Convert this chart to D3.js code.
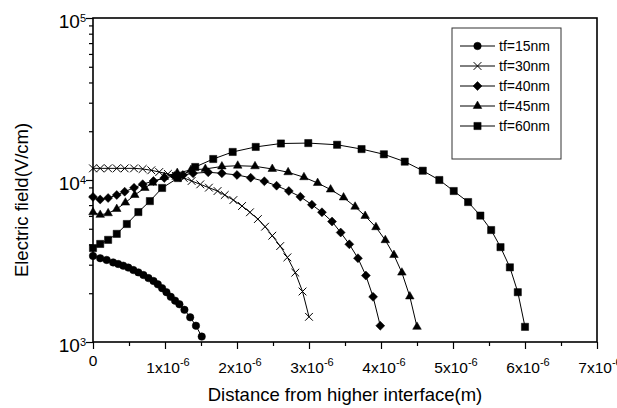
<!DOCTYPE html>
<html>
<head>
<meta charset="utf-8">
<script src="https://cdn.jsdelivr.net/npm/d3@7"></script>
<style>
body { margin: 0; background: #fff; }
svg { display: block; font-family: "Liberation Sans", Arial, sans-serif; }
</style>
</head>
<body>
<svg id="chart" width="617" height="408"></svg>
<script>
// distance in units of 1e-6 m, field in V/cm
const x15 = [0, 0.10, 0.19, 0.28, 0.35, 0.42, 0.49, 0.56, 0.63, 0.70, 0.77, 0.84, 0.90, 0.96, 1.02, 1.08, 1.14, 1.20, 1.27, 1.35, 1.43, 1.51];
const e15 = [3400, 3290, 3210, 3100, 3030, 2960, 2880, 2780, 2690, 2590, 2480, 2380, 2270, 2150, 2030, 1900, 1800, 1710, 1580, 1420, 1260, 1080];

const x30 = [0, 0.10, 0.21, 0.33, 0.44, 0.57, 0.69, 0.81, 0.92, 1.04, 1.15, 1.26, 1.37, 1.49, 1.61, 1.73, 1.83, 1.95, 2.07, 2.18, 2.29, 2.39, 2.49, 2.60, 2.70, 2.81, 2.91, 3.00];
const e30 = [11800, 11800, 11800, 11800, 11800, 11800, 11700, 11480, 11200, 10900, 10600, 10300, 9860, 9400, 8970, 8550, 8080, 7520, 6910, 6320, 5740, 5150, 4530, 3910, 3330, 2680, 2050, 1430];

const x40 = [0, 0.10, 0.21, 0.33, 0.44, 0.57, 0.69, 0.84, 0.99, 1.13, 1.25, 1.39, 1.60, 1.79, 2.00, 2.19, 2.38, 2.55, 2.72, 2.88, 3.04, 3.18, 3.32, 3.44, 3.56, 3.68, 3.79, 3.89, 3.99];
const e40 = [7860, 7580, 7740, 8080, 8470, 8950, 9420, 9860, 10290, 10590, 10740, 11000, 11160, 11000, 10740, 10330, 9820, 9220, 8550, 7880, 7040, 6320, 5540, 4740, 4010, 3290, 2570, 1900, 1260];

const x45 = [0, 0.10, 0.21, 0.33, 0.45, 0.58, 0.72, 0.83, 0.99, 1.17, 1.36, 1.56, 1.79, 2.01, 2.25, 2.49, 2.71, 2.93, 3.12, 3.30, 3.48, 3.64, 3.78, 3.93, 4.06, 4.18, 4.29, 4.40, 4.50];
const e45 = [6320, 6090, 6230, 6620, 7250, 8080, 8930, 9620, 10440, 11050, 11530, 11700, 12120, 12250, 12150, 11700, 11160, 10400, 9580, 8730, 7800, 6840, 6000, 5110, 4250, 3440, 2680, 1910, 1240];

const x60 = [0, 0.10, 0.21, 0.33, 0.47, 0.63, 0.79, 0.96, 1.18, 1.42, 1.67, 1.94, 2.26, 2.61, 2.99, 3.39, 3.73, 4.04, 4.33, 4.58, 4.81, 5.01, 5.21, 5.38, 5.53, 5.66, 5.79, 5.90, 6.00];
const e60 = [3800, 4030, 4270, 4650, 5350, 6340, 7410, 8930, 10280, 12030, 13480, 14900, 16000, 16800, 16900, 16500, 15520, 14410, 12980, 11410, 10000, 8550, 7310, 6030, 4910, 3850, 2890, 2030, 1240];

const labels = ["tf=15nm", "tf=30nm", "tf=40nm", "tf=45nm", "tf=60nm"];
const xTicks = [0, 1, 2, 3, 4, 5, 6, 7];
const xMinor = [0.5, 1.5, 2.5, 3.5, 4.5, 5.5, 6.5];
const yTicks = [1e3, 1e4, 1e5];
const yMinor = [2e3, 3e3, 4e3, 5e3, 6e3, 7e3, 8e3, 9e3, 2e4, 3e4, 4e4, 5e4, 6e4, 7e4, 8e4, 9e4];

const width = 617, height = 408;
const margin = {top: 18, right: 20, bottom: 66, left: 93};

const svg = d3.select("#chart");
svg.append("rect").attr("width", width).attr("height", height).attr("fill", "#fff");

const x = d3.scaleLinear().domain([0, 7]).range([margin.left, width - margin.right]);
const y = d3.scaleLog().domain([1e3, 1e5]).range([height - margin.bottom, margin.top]);

// markers that d3 has no built-in for
const symbolX = {
    draw(ctx, size) {
        const r = Math.sqrt(size) / 2;
        ctx.moveTo(-r, -r); ctx.lineTo(r, r);
        ctx.moveTo(r, -r); ctx.lineTo(-r, r);
    }
};
const symbolRhomb = {
    draw(ctx, size) {
        const r = Math.sqrt(size / 2);
        ctx.moveTo(0, -r); ctx.lineTo(r, 0); ctx.lineTo(0, r); ctx.lineTo(-r, 0);
        ctx.closePath();
    }
};

const series = [
    {label: labels[0], xs: x15, ys: e15, type: d3.symbolCircle, size: 44, filled: true},
    {label: labels[1], xs: x30, ys: e30, type: symbolX, size: 60, filled: false},
    {label: labels[2], xs: x40, ys: e40, type: symbolRhomb, size: 40, filled: true},
    {label: labels[3], xs: x45, ys: e45, type: d3.symbolTriangle, size: 32, filled: true},
    {label: labels[4], xs: x60, ys: e60, type: d3.symbolSquare, size: 52, filled: true}
];

// ticks
const gx = svg.append("g").attr("transform", "translate(0," + y.range()[0] + ")");
gx.call(d3.axisBottom(x).tickValues(xTicks).tickSize(7).tickSizeOuter(0).tickFormat(""));
gx.append("g").call(d3.axisBottom(x).tickValues(xMinor).tickSize(4).tickSizeOuter(0).tickFormat(""));
const gy = svg.append("g").attr("transform", "translate(" + x.range()[0] + ",0)");
gy.call(d3.axisLeft(y).tickValues(yTicks).tickSize(7).tickSizeOuter(0).tickFormat(""));
gy.append("g").call(d3.axisLeft(y).tickValues(yMinor).tickSize(4).tickSizeOuter(0).tickFormat(""));
svg.selectAll(".domain").remove();
svg.selectAll(".tick line").attr("stroke", "#000").attr("stroke-width", 1.2);

// frame
svg.append("rect")
    .attr("x", x.range()[0]).attr("y", y.range()[1])
    .attr("width", x.range()[1] - x.range()[0])
    .attr("height", y.range()[0] - y.range()[1])
    .attr("fill", "none").attr("stroke", "#000").attr("stroke-width", 1.6);

// tick labels
xTicks.forEach(function (v) {
    const t = svg.append("text")
        .attr("x", x(v)).attr("text-anchor", "middle")
        .attr("font-size", 15.5).attr("fill", "#000");
    if (v === 0) {
        t.attr("y", y.range()[0] + 24).text("0");
    } else {
        t.attr("y", y.range()[0] + 31).attr("dx", 3);
        t.append("tspan").text(v + "x10");
        t.append("tspan").attr("dy", -7).attr("font-size", 11).text("-6");
    }
});
yTicks.forEach(function (v) {
    const t = svg.append("text")
        .attr("x", x.range()[0] - 7).attr("y", y(v) + 9.5)
        .attr("text-anchor", "end").attr("font-size", 19).attr("fill", "#000");
    t.append("tspan").text("10");
    t.append("tspan").attr("dy", -6).attr("font-size", 11).text(Math.round(Math.log10(v)));
});

// axis titles
svg.append("text")
    .attr("x", (x.range()[0] + x.range()[1]) / 2).attr("y", 401)
    .attr("text-anchor", "middle").attr("font-size", 18.5)
    .text("Distance from higher interface(m)");
svg.append("text")
    .attr("transform", "translate(28,200) rotate(-90)")
    .attr("text-anchor", "middle").attr("font-size", 18.5)
    .text("Electric field(V/cm)");

// data
const line = d3.line().x(d => x(d[0])).y(d => y(d[1]));
series.forEach(function (s) {
    const pts = d3.zip(s.xs, s.ys);
    svg.append("path")
        .attr("d", line(pts))
        .attr("fill", "none").attr("stroke", "#000").attr("stroke-width", 1);
    svg.append("g").selectAll("path")
        .data(pts)
        .enter().append("path")
        .attr("transform", d => "translate(" + x(d[0]) + "," + y(d[1]) + ")")
        .attr("d", d3.symbol().type(s.type).size(s.size))
        .attr("fill", s.filled ? "#000" : "none")
        .attr("stroke", "#000").attr("stroke-width", s.filled ? 0.5 : 1);
});

// legend
const lg = svg.append("g");
lg.append("rect")
    .attr("x", 452).attr("y", 28).attr("width", 109).attr("height", 131)
    .attr("fill", "#fff").attr("stroke", "#333").attr("stroke-width", 1);
series.forEach(function (s, i) {
    const ly = 46 + i * 20;
    lg.append("line").attr("x1", 460).attr("x2", 495).attr("y1", ly).attr("y2", ly)
        .attr("stroke", "#000").attr("stroke-width", 1);
    lg.append("path")
        .attr("transform", "translate(477.5," + ly + ")")
        .attr("d", d3.symbol().type(s.type).size(s.size))
        .attr("fill", s.filled ? "#000" : "none")
        .attr("stroke", "#000").attr("stroke-width", s.filled ? 0.5 : 1);
    lg.append("text").attr("x", 499).attr("y", ly + 5)
        .attr("font-size", 14).text(s.label);
});
</script>
</body>
</html>
